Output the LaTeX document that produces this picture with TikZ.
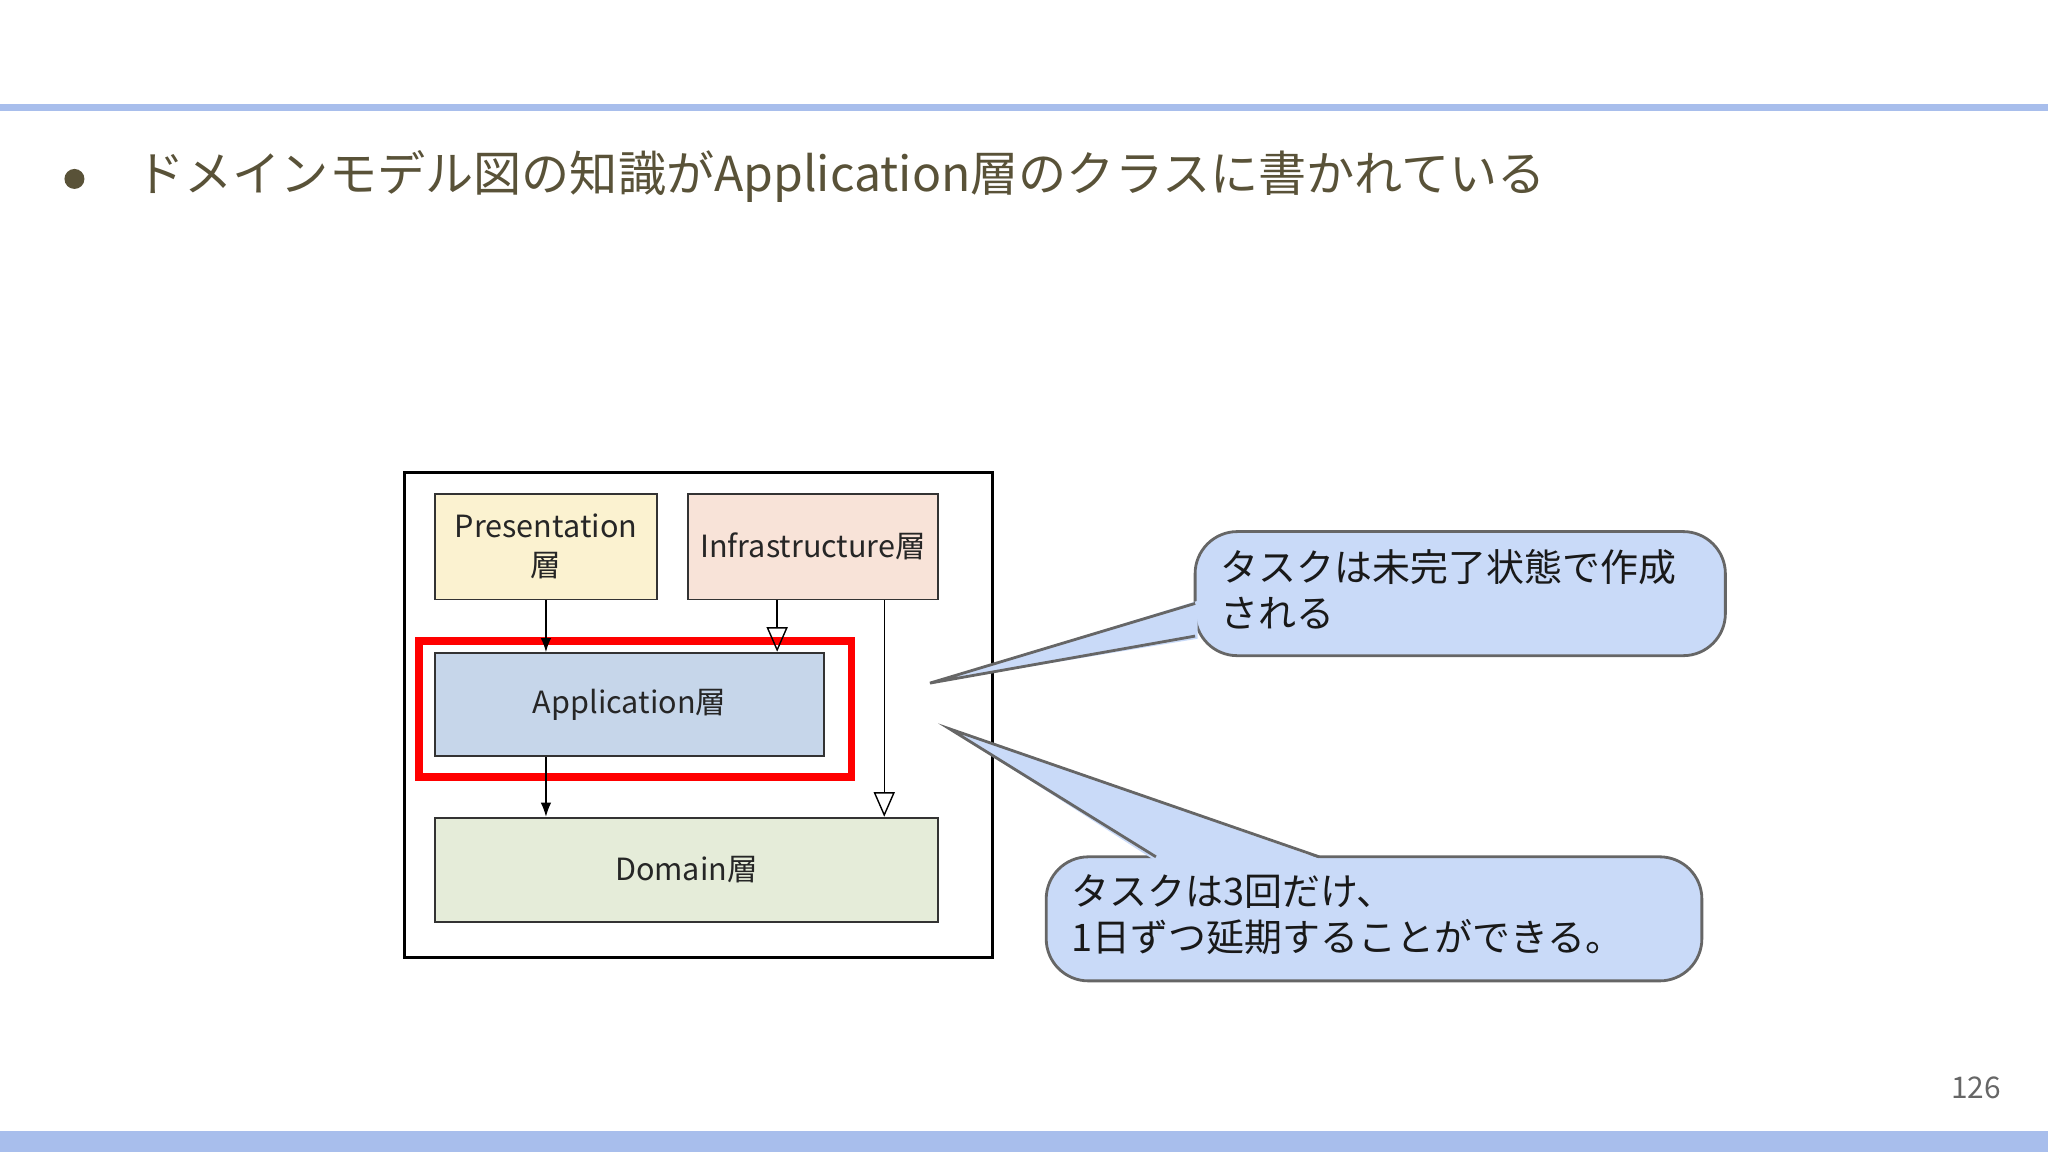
\documentclass[tikz,border=0pt]{standalone}
\usepackage{fontspec}
\setmainfont{Noto Sans CJK JP}
\usetikzlibrary{arrows.meta}
\definecolor{txt}{HTML}{595238}
\definecolor{bar}{HTML}{A8BEEC}
\definecolor{callf}{HTML}{C9DAF8}
\begin{document}
\begin{tikzpicture}[x=0.01306cm,y=-0.01306cm,
  layer/.style={draw=black!80,line width=0.5pt,inner sep=0pt,font=\fontsize{8.7}{11}\selectfont,align=center,text=black!85},
  fa/.style={-{Latex[length=4pt,width=3pt]},line width=0.4pt},
  oa/.style={-{Triangle[open,length=7pt,width=6pt]},line width=0.4pt},
  call/.style={fill=callf,draw=black!60,line width=0.8pt},
  ctext/.style={font=\fontsize{10.8}{13.2}\selectfont,anchor=north west,align=left,text=black!90,inner sep=0}]
\useasboundingbox (0,0) rectangle (1568,882);
\fill[bar] (0,80) rectangle (1568,85);
\fill[bar] (0,866) rectangle (1568,882);
\node[circle,fill=txt,inner sep=0pt,minimum size=0.2cm] (bul) at (57,137) {};
\node[anchor=west,text=txt,font=\fontsize{13.7}{16}\selectfont,inner sep=0] (title) at (104,135) {ドメインモデル図の知識がApplication層のクラスに書かれている};
\node[text=black!60,font=\fontsize{8.5}{10}\selectfont] (pg) at (1513,833) {126};
\draw[line width=0.8pt] (310,362) rectangle (760,733);
\node[layer,fill={rgb,255:red,251;green,242;blue,208},minimum width=2.220cm,minimum height=1.058cm] (pres) at (418,418.5) {Presentation\\層};
\node[layer,fill={rgb,255:red,248;green,227;blue,216},minimum width=2.494cm,minimum height=1.058cm] (infra) at (622.5,418.5) {Infrastructure層};
\node[layer,fill={rgb,255:red,198;green,214;blue,234},minimum width=3.892cm,minimum height=1.032cm] (app) at (482,539.5) {Application層};
\node[layer,fill={rgb,255:red,229;green,236;blue,217},minimum width=5.028cm,minimum height=1.045cm] (dom) at (525.5,666) {Domain層};
\draw[red,line width=2.2pt] (321,491) rectangle (652,595);
\draw[fa] (pres.south) -- (app.north -| pres.south);
\draw[oa] (infra.south -| 595,0) -- (595,499);
\draw[fa] (app.south -| 418,0) -- (dom.north -| 418,0);
\draw[oa] (infra.south -| 677,0) -- (dom.north -| 677,0);
% callout 1
\draw[call,rounded corners=12] (915,407) rectangle (1321,502);
\fill[callf] (712,523) -- (917,460) -- (917,489) -- cycle;
\draw[draw=black!60,line width=0.8pt] (915,462) -- (712,523) -- (915,487);
\node[ctext] (c1) at (934,420) {タスクは未完了状態で作成\\される};
% callout 2
\draw[call,rounded corners=12] (801,656) rectangle (1303,751);
\fill[callf] (727,558) -- (883,658) -- (1012,658) -- cycle;
\draw[draw=black!60,line width=0.8pt] (885,656) -- (727,558) -- (1010,656);
\node[ctext] (c2) at (820,669) {タスクは3回だけ、\\1日ずつ延期することができる。};
\end{tikzpicture}
\end{document}
